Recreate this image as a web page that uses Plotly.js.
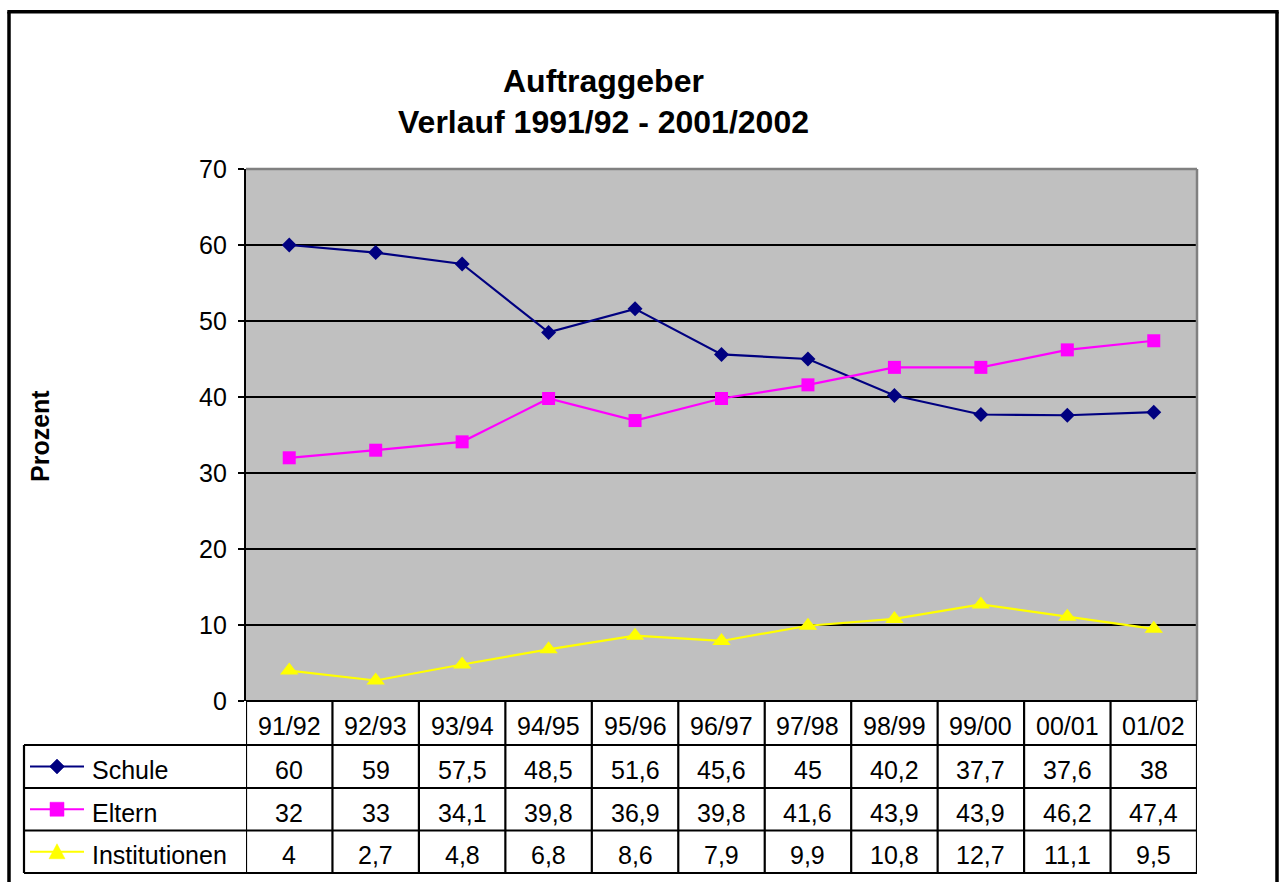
<!DOCTYPE html>
<html>
<head>
<meta charset="utf-8">
<script src="https://cdn.plot.ly/plotly-3.0.1.min.js"></script>
<style>html,body{margin:0;padding:0;background:#fff;}#chart{width:1280px;height:882px;}</style>
</head>
<body>
<div id="chart"></div>
<script>
// ---- data ----
const categories = ["91/92","92/93","93/94","94/95","95/96","96/97","97/98","98/99","99/00","00/01","01/02"];
const seriesNames = ["Schule","Eltern","Institutionen"];
const schule = [60, 59, 57.5, 48.5, 51.6, 45.6, 45, 40.2, 37.7, 37.6, 38];
const eltern = [32, 33, 34.1, 39.8, 36.9, 39.8, 41.6, 43.9, 43.9, 46.2, 47.4];
const institutionen = [4, 2.7, 4.8, 6.8, 8.6, 7.9, 9.9, 10.8, 12.7, 11.1, 9.5];
const yTicks = [0, 10, 20, 30, 40, 50, 60, 70];
const titleLines = ["Auftraggeber", "Verlauf 1991/92 - 2001/2002"];
const yTitle = "Prozent";

// ---- layout helpers (pixel -> paper) ----
const W = 1280, H = 882;
const fx = p => p / W;
const fy = p => 1 - p / H;
const plotL = 246, plotR = 1197, plotT = 169, plotB = 701;
const rowEdges = [701, 745, 788, 830.5, 873];
const tableLeft = 24;
const textShift = 3.5;
const FONT = "Liberation Sans, Arial, sans-serif";
const fmt = v => String(v).replace(".", ",");

const styles = [
  {color: "#000080", symbol: "diamond", size: 11.5},
  {color: "#FF00FF", symbol: "square", size: 13},
  {color: "#FFFF00", symbol: "triangle-up", size: 16}
];
const seriesData = [schule, eltern, institutionen];

const traces = seriesData.map((vals, i) => ({
  type: "scatter", mode: "lines+markers",
  x: categories, y: vals, name: seriesNames[i],
  line: {color: styles[i].color, width: 2.2},
  marker: {color: styles[i].color, symbol: styles[i].symbol, size: styles[i].size,
           line: {color: styles[i].color, width: 0}},
  showlegend: false, hoverinfo: "x+y+name"
}));

const shapes = [];
const annotations = [];

// plot area top/right grey border
shapes.push({type: "line", xref: "x domain", yref: "y domain", x0: 0, x1: 1, y0: 1, y1: 1, line: {color: "#808080", width: 2.5}});
shapes.push({type: "line", xref: "x domain", yref: "y domain", x0: 1, x1: 1, y0: 0, y1: 1, line: {color: "#808080", width: 2.5}});

// table horizontal lines
shapes.push({type: "line", xref: "paper", yref: "paper", x0: fx(plotL), x1: fx(plotR), y0: fy(rowEdges[0]), y1: fy(rowEdges[0]), line: {color: "#000", width: 2.2}});
for (let r = 1; r < rowEdges.length; r++) {
  shapes.push({type: "line", xref: "paper", yref: "paper", x0: fx(tableLeft), x1: fx(plotR), y0: fy(rowEdges[r]), y1: fy(rowEdges[r]), line: {color: "#000", width: 2.2}});
}
// table vertical lines (between categories)
for (let c = 0; c <= categories.length; c++) {
  shapes.push({type: "line", xref: "x", yref: "paper", x0: c - 0.5, x1: c - 0.5, y0: fy(rowEdges[0]), y1: fy(rowEdges[rowEdges.length - 1]), line: {color: "#000", width: 2.2}});
}
shapes.push({type: "line", xref: "paper", yref: "paper", x0: fx(tableLeft), x1: fx(tableLeft), y0: fy(rowEdges[1]), y1: fy(rowEdges[4]), line: {color: "#000", width: 2.2}});

// outer chart border (left, top, right; bottom is cut off)
const bL = 9, bR = 1277, bT = 11.7;
shapes.push({type: "line", xref: "paper", yref: "paper", x0: fx(bL), x1: fx(bL), y0: fy(bT), y1: 0, line: {color: "#000", width: 3.5}});
shapes.push({type: "line", xref: "paper", yref: "paper", x0: fx(bR), x1: fx(bR), y0: fy(bT), y1: 0, line: {color: "#000", width: 3.5}});
shapes.push({type: "line", xref: "paper", yref: "paper", x0: fx(bL - 1.7), x1: fx(bR + 1.7), y0: fy(bT), y1: fy(bT), line: {color: "#000", width: 3.5}});

// legend keys in the table's first column
const keyX0 = 30, keyX1 = 84, keyXc = 57;
const markerPath = (sym, cx, cy) => {
  const X = v => fx(v).toFixed(6), Y = v => fy(v).toFixed(6);
  if (sym === "diamond") {
    const r = 7.5;
    return `M${X(cx - r)},${Y(cy)} L${X(cx)},${Y(cy - r)} L${X(cx + r)},${Y(cy)} L${X(cx)},${Y(cy + r)} Z`;
  } else if (sym === "square") {
    const r = 7;
    return `M${X(cx - r)},${Y(cy - r)} L${X(cx + r)},${Y(cy - r)} L${X(cx + r)},${Y(cy + r)} L${X(cx - r)},${Y(cy + r)} Z`;
  } else {
    const r = 8;
    return `M${X(cx - r)},${Y(cy + 7)} L${X(cx + r)},${Y(cy + 7)} L${X(cx)},${Y(cy - 8)} Z`;
  }
};
seriesData.forEach((vals, i) => {
  const cy = (rowEdges[i + 1] + rowEdges[i + 2]) / 2;
  shapes.push({type: "line", xref: "paper", yref: "paper", x0: fx(keyX0), x1: fx(keyX1), y0: fy(cy), y1: fy(cy), line: {color: styles[i].color, width: 2.2}});
  shapes.push({type: "path", xref: "paper", yref: "paper", path: markerPath(styles[i].symbol, keyXc, cy),
    fillcolor: styles[i].color, line: {color: styles[i].color, width: 0.5}});
});

// header row: category labels
categories.forEach(c => {
  annotations.push({xref: "x", yref: "paper", x: c, y: fy((rowEdges[0] + rowEdges[1]) / 2 + textShift - 0.5), text: c, showarrow: false,
    xanchor: "center", yanchor: "middle", font: {family: FONT, size: 25, color: "#000"}});
});
// value rows
seriesData.forEach((vals, i) => {
  const cy = fy((rowEdges[i + 1] + rowEdges[i + 2]) / 2 + textShift);
  annotations.push({xref: "paper", yref: "paper", x: fx(90), y: cy, text: seriesNames[i], showarrow: false,
    xanchor: "left", yanchor: "middle", font: {family: FONT, size: 25, color: "#000"}});
  vals.forEach((v, j) => {
    annotations.push({xref: "x", yref: "paper", x: categories[j], y: cy, text: fmt(v), showarrow: false,
      xanchor: "center", yanchor: "middle", font: {family: FONT, size: 25, color: "#000"}});
  });
});

// titles
annotations.push({xref: "paper", yref: "paper", x: fx(603), y: fy(81), text: "<b>" + titleLines[0] + "</b>", showarrow: false,
  xanchor: "center", yanchor: "middle", font: {family: FONT, size: 32, color: "#000"}});
annotations.push({xref: "paper", yref: "paper", x: fx(603), y: fy(122), text: "<b>" + titleLines[1] + "</b>", showarrow: false,
  xanchor: "center", yanchor: "middle", font: {family: FONT, size: 32, color: "#000"}});
annotations.push({xref: "paper", yref: "paper", x: fx(40), y: fy(436), text: "<b>" + yTitle + "</b>", textangle: -90, showarrow: false,
  xanchor: "center", yanchor: "middle", font: {family: FONT, size: 25, color: "#000"}});

const layout = {
  width: W, height: H,
  margin: {l: 0, r: 0, t: 0, b: 0, pad: 0},
  paper_bgcolor: "#ffffff",
  plot_bgcolor: "#C0C0C0",
  showlegend: false,
  xaxis: {domain: [fx(plotL), fx(plotR)], type: "category", range: [-0.5, categories.length - 0.5],
          showticklabels: false, ticks: "", showgrid: false, zeroline: false, showline: false, fixedrange: true},
  yaxis: {domain: [fy(plotB), fy(plotT)], range: [0, 70], tickvals: yTicks, ticktext: yTicks.map(String),
          showgrid: true, gridcolor: "#000", gridwidth: 1.8, zeroline: false,
          showline: true, linecolor: "#000", linewidth: 2.2,
          ticks: "outside", ticklen: 6, tickcolor: "#000", tickwidth: 1.8,
          ticklabelstandoff: 6,
          tickfont: {family: FONT, size: 25, color: "#000"}, fixedrange: true},
  shapes: shapes,
  annotations: annotations
};

Plotly.newPlot("chart", traces, layout, {displayModeBar: false, staticPlot: true});
</script>
</body>
</html>
